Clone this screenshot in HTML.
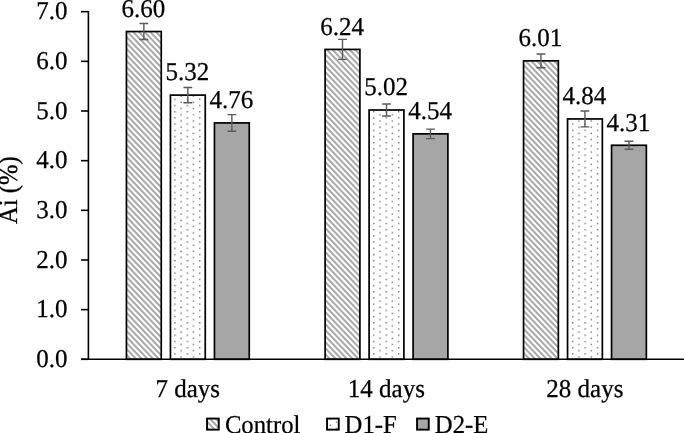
<!DOCTYPE html>
<html lang="en"><head><meta charset="utf-8"><title>Ai (%) chart</title>
<style>
html,body{margin:0;padding:0;background:#fff;}
body{width:685px;height:433px;overflow:hidden;}
svg{display:block;}
text{text-rendering:geometricPrecision;font-family:"Liberation Serif","Times New Roman",Times,serif;fill:#000;stroke:#000;stroke-width:0.25px;}
</style></head><body>
<svg width="685" height="433" viewBox="0 0 685 433">
<defs>
<pattern id="hatch" width="5.7" height="6" patternUnits="userSpaceOnUse" x="0.3" y="0">
<rect width="5.7" height="6" fill="#fff"/>
<path d="M-5.7 -6L11.4 12M-11.4 -6L5.7 12M0 -6L17.1 12" stroke="#a6a6a6" stroke-width="1.95" fill="none"/>
</pattern>
<pattern id="dots" width="12.43" height="6.21" patternUnits="userSpaceOnUse" x="0.18" y="5.4">
<rect width="12.43" height="6.21" fill="#fff"/>
<rect x="0" y="0" width="1.4" height="1.4" fill="#757575"/><rect x="6.215" y="3.105" width="1.4" height="1.4" fill="#757575"/>
</pattern>
</defs>
<rect width="685" height="433" fill="#fff"/>

<rect x="126.45" y="31.54" width="34.80" height="327.76" fill="url(#hatch)" stroke="#000" stroke-width="1.7"/>
<path d="M143.85 23.54V39.54M139.45 23.54h8.8M139.45 39.54h8.8" stroke="#595959" stroke-width="1.4" fill="none"/>
<text transform="translate(143.35 17.00) scale(1 1.03)" text-anchor="middle" font-size="25">6.60</text>
<rect x="170.45" y="95.11" width="34.80" height="264.19" fill="url(#dots)" stroke="#000" stroke-width="1.7"/>
<path d="M187.85 87.51V102.71M183.45 87.51h8.8M183.45 102.71h8.8" stroke="#595959" stroke-width="1.4" fill="none"/>
<text transform="translate(187.35 80.00) scale(1 1.03)" text-anchor="middle" font-size="25">5.32</text>
<rect x="214.45" y="122.92" width="34.80" height="236.38" fill="#a6a6a6" stroke="#000" stroke-width="1.7"/>
<path d="M231.85 114.62V131.22M227.45 114.62h8.8M227.45 131.22h8.8" stroke="#595959" stroke-width="1.4" fill="none"/>
<text transform="translate(231.35 108.00) scale(1 1.03)" text-anchor="middle" font-size="25">4.76</text>
<rect x="325.10" y="49.42" width="34.80" height="309.88" fill="url(#hatch)" stroke="#000" stroke-width="1.7"/>
<path d="M342.50 39.42V59.42M338.10 39.42h8.8M338.10 59.42h8.8" stroke="#595959" stroke-width="1.4" fill="none"/>
<text transform="translate(342.00 35.00) scale(1 1.03)" text-anchor="middle" font-size="25">6.24</text>
<rect x="369.10" y="110.01" width="34.80" height="249.29" fill="url(#dots)" stroke="#000" stroke-width="1.7"/>
<path d="M386.50 104.01V116.01M382.10 104.01h8.8M382.10 116.01h8.8" stroke="#595959" stroke-width="1.4" fill="none"/>
<text transform="translate(386.00 95.00) scale(1 1.03)" text-anchor="middle" font-size="25">5.02</text>
<rect x="413.10" y="133.84" width="34.80" height="225.46" fill="#a6a6a6" stroke="#000" stroke-width="1.7"/>
<path d="M430.50 129.09V138.59M426.10 129.09h8.8M426.10 138.59h8.8" stroke="#595959" stroke-width="1.4" fill="none"/>
<text transform="translate(430.00 119.00) scale(1 1.03)" text-anchor="middle" font-size="25">4.54</text>
<rect x="523.55" y="60.84" width="34.80" height="298.46" fill="url(#hatch)" stroke="#000" stroke-width="1.7"/>
<path d="M540.95 53.94V67.74M536.55 53.94h8.8M536.55 67.74h8.8" stroke="#595959" stroke-width="1.4" fill="none"/>
<text transform="translate(540.45 46.00) scale(1 1.03)" text-anchor="middle" font-size="25">6.01</text>
<rect x="567.55" y="118.95" width="34.80" height="240.35" fill="url(#dots)" stroke="#000" stroke-width="1.7"/>
<path d="M584.95 111.05V126.85M580.55 111.05h8.8M580.55 126.85h8.8" stroke="#595959" stroke-width="1.4" fill="none"/>
<text transform="translate(584.45 104.00) scale(1 1.03)" text-anchor="middle" font-size="25">4.84</text>
<rect x="611.55" y="145.27" width="34.80" height="214.03" fill="#a6a6a6" stroke="#000" stroke-width="1.7"/>
<path d="M628.95 141.32V149.22M624.55 141.32h8.8M624.55 149.22h8.8" stroke="#595959" stroke-width="1.4" fill="none"/>
<text transform="translate(628.45 131.00) scale(1 1.03)" text-anchor="middle" font-size="25">4.31</text>
<path d="M88.4 10.88V359.30" stroke="#000" stroke-width="1.6" fill="none"/>
<path d="M81 359.30H684" stroke="#000" stroke-width="1.45" fill="none"/>
<path d="M81 359.30H88.4" stroke="#000" stroke-width="1.6" fill="none"/>
<text transform="translate(67.40 367.00) scale(1 1.03)" text-anchor="end" font-size="25">0.0</text>
<path d="M81 309.64H88.4" stroke="#000" stroke-width="1.6" fill="none"/>
<text transform="translate(67.40 317.00) scale(1 1.03)" text-anchor="end" font-size="25">1.0</text>
<path d="M81 259.98H88.4" stroke="#000" stroke-width="1.6" fill="none"/>
<text transform="translate(67.40 268.00) scale(1 1.03)" text-anchor="end" font-size="25">2.0</text>
<path d="M81 210.32H88.4" stroke="#000" stroke-width="1.6" fill="none"/>
<text transform="translate(67.40 218.00) scale(1 1.03)" text-anchor="end" font-size="25">3.0</text>
<path d="M81 160.66H88.4" stroke="#000" stroke-width="1.6" fill="none"/>
<text transform="translate(67.40 168.00) scale(1 1.03)" text-anchor="end" font-size="25">4.0</text>
<path d="M81 111.00H88.4" stroke="#000" stroke-width="1.6" fill="none"/>
<text transform="translate(67.40 119.00) scale(1 1.03)" text-anchor="end" font-size="25">5.0</text>
<path d="M81 61.34H88.4" stroke="#000" stroke-width="1.6" fill="none"/>
<text transform="translate(67.40 69.00) scale(1 1.03)" text-anchor="end" font-size="25">6.0</text>
<path d="M81 11.68H88.4" stroke="#000" stroke-width="1.6" fill="none"/>
<text transform="translate(67.40 19.00) scale(1 1.03)" text-anchor="end" font-size="25">7.0</text>
<text transform="translate(187.75 397.00) scale(1 1.03)" text-anchor="middle" font-size="25">7 days</text>
<text transform="translate(386.40 397.00) scale(1 1.03)" text-anchor="middle" font-size="25">14 days</text>
<text transform="translate(584.85 397.00) scale(1 1.03)" text-anchor="middle" font-size="25">28 days</text>
<text transform="translate(17.40 190.10) rotate(-90) scale(1 1.09)" text-anchor="middle" font-size="24.6">Ai (%)</text>
<rect x="207.05" y="418.55" width="11.7" height="11.1" fill="url(#hatch)" stroke="#000" stroke-width="1.9"/>
<text transform="translate(224.90 433.00) scale(1 1.04)" font-size="24.7">Control</text>
<rect x="327.05" y="418.55" width="11.7" height="11.1" fill="url(#dots)" stroke="#000" stroke-width="1.9"/>
<text transform="translate(344.60 433.00) scale(1 1.05)" font-size="24.7">D1-F</text>
<rect x="417.05" y="418.55" width="11.7" height="11.1" fill="#a6a6a6" stroke="#000" stroke-width="1.9"/>
<text transform="translate(434.80 433.00) scale(1 1.05)" font-size="24.7">D2-E</text>
</svg>
</body></html>
